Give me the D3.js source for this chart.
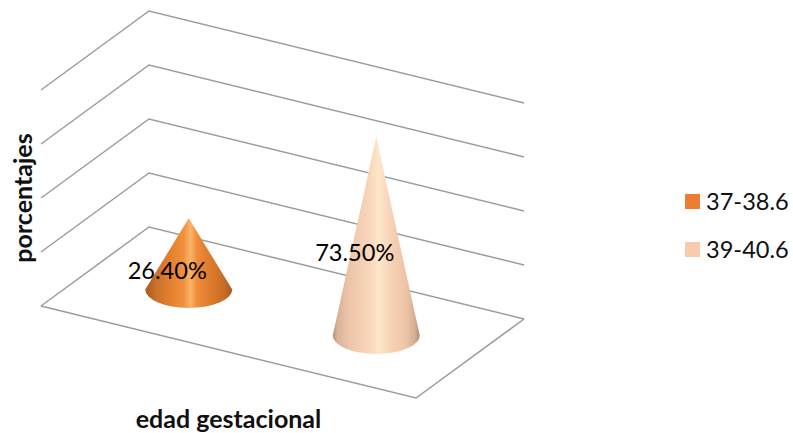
<!DOCTYPE html>
<html><head><meta charset="utf-8">
<script src="https://cdn.jsdelivr.net/npm/d3@7"></script>
<style>html,body{margin:0;padding:0;background:#fff}svg{display:block}text{font-family:Lato,Carlito,sans-serif}</style>
</head><body><div id="c"></div>
<script>
const categories = ["37-38.6", "39-40.6"];
const values = [26.4, 73.5];
const labels = ["26.40%", "73.50%"];
const gridLevels = [0, 20, 40, 60, 80];
const colors = ["#ed7d31", "#f8cbad"];
const xTitle = "edad gestacional";
const yTitle = "porcentajes";

const W = 793, H = 433;
const svg = d3.select("#c").append("svg").attr("width", W).attr("height", H);

// floor frame: origin is the front-left corner
const O = [41, 306], U = [375, 92], V = [108, -79];
const uScale = d3.scaleBand().domain(categories).range([0, 1]);
const hScale = d3.scaleLinear().domain([0, 80]).range([0, 216]);
const proj = (u, v, val = 0) => [O[0] + U[0]*u + V[0]*v, O[1] + U[1]*u + V[1]*v - hScale(val)];
const line = d3.line();

const defs = svg.append("defs");
const gradStops = [
  [["0%","#a85a1c"],["12%","#c9702a"],["30%","#e5822f"],["44%","#f08f3e"],["52%","#fbb468"],["60%","#ef8a38"],["75%","#dd7a2c"],["90%","#c86e28"],["100%","#a5591c"]],
  [["0%","#b08e78"],["5%","#d8b298"],["20%","#eec6aa"],["42%","#f8d6ba"],["53%","#ffe6ca"],["66%","#f8d2b6"],["85%","#ecc3a6"],["95%","#d2ac92"],["100%","#a98873"]]
];
gradStops.forEach((st, i) => {
  const g = defs.append("linearGradient").attr("id", "cone" + i).attr("x1", 0).attr("x2", 1).attr("y1", 0).attr("y2", 0);
  st.forEach(s => g.append("stop").attr("offset", s[0]).attr("stop-color", s[1]));
});

// walls & floor grid
const gridG = svg.append("g").attr("fill", "none").attr("stroke", "#9c9c9c").attr("stroke-width", 1.5);
gridLevels.forEach(l => {
  gridG.append("path").attr("d", line([proj(0,0,l), proj(0,1,l), proj(1,1,l)]));
});
gridG.append("path").attr("d", line([proj(0,0,0), proj(1,0,0), proj(1,1,0)]));

// cones
const rx = 43.5, ry = 18.5;
categories.forEach((c, i) => {
  const u = uScale(c) + uScale.bandwidth()/2;
  const [cx, cy] = proj(u, 0.5, 0);
  const [ax, ay] = proj(u, 0.5, values[i]);
  svg.append("path")
    .attr("d", `M${ax},${ay} L${cx + rx},${cy} A${rx},${ry} 0 0 1 ${cx - rx},${cy} Z`)
    .attr("fill", `url(#cone${i})`);
});

// data labels
categories.forEach((c, i) => {
  const u = uScale(c) + uScale.bandwidth()/2;
  const [cx, cy] = proj(u, 0.5, values[i] / 2);
  svg.append("text").attr("x", cx - 21.5).attr("y", cy + 25).attr("text-anchor", "middle")
    .attr("font-size", 23.6).attr("fill", "#000").text(labels[i]);
});

// axis titles
svg.append("text").attr("x", 228.5).attr("y", 428).attr("text-anchor", "middle")
  .attr("font-size", 25).attr("font-weight", 700).attr("fill", "#111").text(xTitle);
svg.append("text").attr("transform", "translate(32,198) rotate(-90)").attr("text-anchor", "middle")
  .attr("font-size", 25).attr("font-weight", 700).attr("fill", "#111").text(yTitle);

// legend
const ly = d3.scalePoint().domain(categories).range([201.5, 249.5]);
categories.forEach((c, i) => {
  svg.append("rect").attr("x", 685).attr("y", ly(c) - 7.5).attr("width", 15).attr("height", 15).attr("fill", colors[i]);
  svg.append("text").attr("x", 706).attr("y", ly(c) + 8).attr("font-size", 23.6).attr("fill", "#111").text(c);
});
</script></body></html>
